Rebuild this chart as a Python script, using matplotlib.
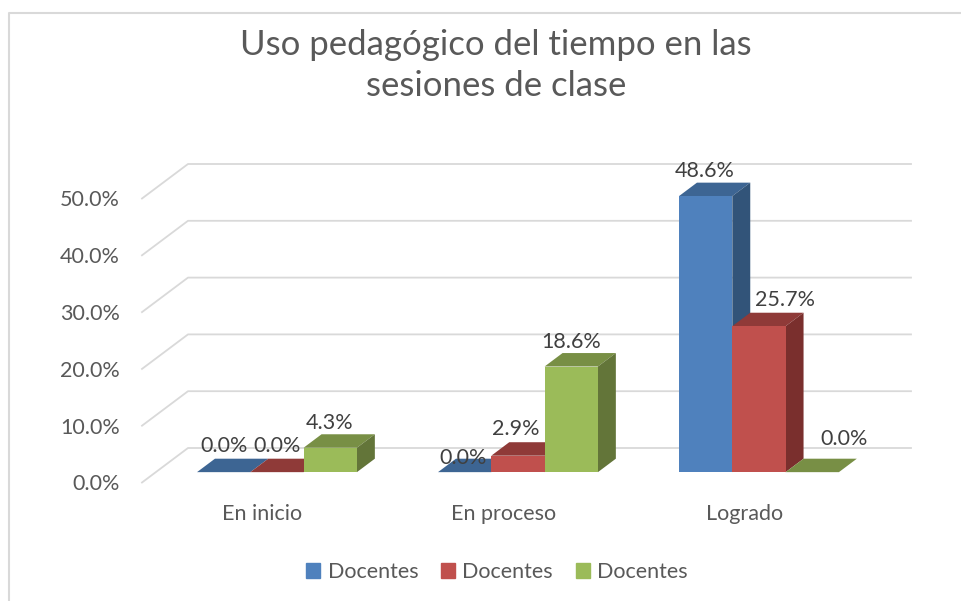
import matplotlib
matplotlib.use('Agg')
import matplotlib.pyplot as plt
from matplotlib.patches import Patch
from matplotlib.lines import Line2D

W, H = 961, 601

categories = ['En inicio', 'En proceso', 'Logrado']
series_names = ['Docentes', 'Docentes', 'Docentes']
serie_1 = [0.0, 0.0, 48.6]
serie_2 = [0.0, 2.9, 25.7]
serie_3 = [4.3, 18.6, 0.0]
y_ticks = [0, 10, 20, 30, 40, 50]

front_cols = ['#4F81BD', '#C0504D', '#9BBB59']
top_cols = ['#3D6593', '#8F3A38', '#788F45']
side_cols = ['#325479', '#7A2F2D', '#637539']
grid_col = '#D9D9D9'

# label offsets from the bar's front top edge, in pixels
label_shift = [[(0, 26), (-2, 14), (-1, 25)],
               [(0, 26), (-2, 27), (26, 26)],
               [(-1, 25), (0, 25), (32, 33)]]

plt.rcParams['font.family'] = ['Lato', 'DejaVu Sans']

fig = plt.figure(figsize=(W / 100, H / 100), dpi=100)
# axes box = front wall of the fake 3d chart
ax = fig.add_axes([142 / W, 1 - 482.5 / H, 723 / W, 284 / H])
ax.set_xlim(0, 3)
ax.set_ylim(0, 50)
for s in ax.spines.values():
    s.set_visible(False)

# one unit of depth in data units
dx = 46 / 241
dy = 34.5 / 5.68


def proj(x, y, d):
    return x + d * dx, y + d * dy


# walls
for t in y_ticks:
    x0, y0 = proj(0, t, 0)
    x1, y1 = proj(0, t, 1)
    x2, y2 = proj(3, t, 1)
    ax.plot([x0, x1, x2], [y0, y1, y2], color=grid_col, lw=1.3, clip_on=False, zorder=1)

bar_w = 53.3 / 241
start = 0.171
d0, d1 = 0.3, 0.69

series = [serie_1, serie_2, serie_3]
for c in range(len(categories)):
    for i, vals in enumerate(series):
        v = vals[c]
        l = c + start + i * bar_w
        r = l + bar_w
        z = 3 + c * 3 + i
        # top face
        pts = [proj(l, v, d0), proj(r, v, d0), proj(r, v, d1), proj(l, v, d1)]
        ax.fill(*zip(*pts), color=top_cols[i], lw=0, clip_on=False, zorder=z)
        if v > 0:
            pts = [proj(r, 0, d0), proj(r, v, d0), proj(r, v, d1), proj(r, 0, d1)]
            ax.fill(*zip(*pts), color=side_cols[i], lw=0, clip_on=False, zorder=z)
            pts = [proj(l, 0, d0), proj(r, 0, d0), proj(r, v, d0), proj(l, v, d0)]
            ax.fill(*zip(*pts), color=front_cols[i], lw=0, clip_on=False, zorder=z)

for c in range(len(categories)):
    for i, vals in enumerate(series):
        v = vals[c]
        l = c + start + i * bar_w
        xy = proj(l + bar_w / 2, v, d0)
        sx, sy = label_shift[i][c]
        ax.annotate(f'{v:.1f}%', xy, xytext=(sx * 0.72, sy * 0.72), textcoords='offset points',
                    ha='center', va='center', fontsize=15.5, color='#404040', zorder=30,
                    annotation_clip=False)

ax.set_yticks(y_ticks)
ax.set_yticklabels([f'{t:.1f}%' for t in y_ticks], fontsize=15.5, color='#595959')
ax.set_xticks([0.5, 1.5, 2.5])
ax.set_xticklabels(categories, fontsize=15.5, color='#595959')
ax.tick_params(axis='both', length=0)
ax.tick_params(axis='y', pad=16)
ax.tick_params(axis='x', pad=15.5)

fig.text(496 / W, 1 - 65.5 / H, 'Uso pedagógico del tiempo en las\nsesiones de clase', ha='center', va='center',
         fontsize=25, color='#595959', linespacing=1.38)

handles = [Patch(color=col, label=n) for col, n in zip(front_cols, series_names)]
fig.legend(handles=handles, loc='center', bbox_to_anchor=(497 / W, 1 - 572 / H), ncol=3, frameon=False,
           fontsize=15.5, labelcolor='#595959', handlelength=0.65, handleheight=0.65,
           handletextpad=0.35, columnspacing=1.05)

# chart border: only left and top are inside the picture
fig.add_artist(Line2D([8.5 / W, 8.5 / W, 1], [0, 1 - 12.5 / H, 1 - 12.5 / H],
                      color=grid_col, lw=1.5))

fig.savefig('out.png', dpi=100)
